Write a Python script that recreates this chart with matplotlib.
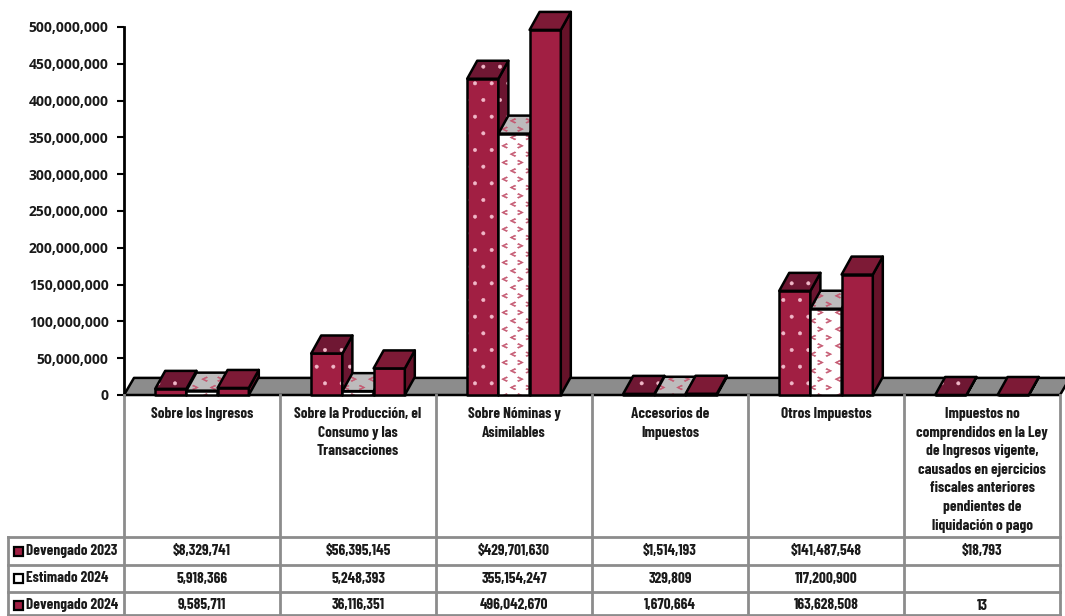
import numpy as np
import matplotlib
matplotlib.use("Agg")
import matplotlib.pyplot as plt
import matplotlib.hatch as mhatch
from matplotlib.patches import Polygon, Rectangle
from matplotlib.path import Path

categories = ["Sobre los Ingresos",
              "Sobre la Producción, el\nConsumo y las\nTransacciones",
              "Sobre Nóminas y\nAsimilables",
              "Accesorios de\nImpuestos",
              "Otros Impuestos",
              "Impuestos no\ncomprendidos en la Ley\nde Ingresos vigente,\ncausados en ejercicios\nfiscales anteriores\npendientes de\nliquidación o pago"]
devengado_2023 = [8329741, 56395145, 429701630, 1514193, 141487548, 18793]
estimado_2024 = [5918366, 5248393, 355154247, 329809, 117200900, np.nan]
devengado_2024 = [9585711, 36116351, 496042670, 1670664, 163628508, 13]
series_names = ["Devengado 2023", "Estimado 2024", "Devengado 2024"]
yticks = np.arange(0, 500000001, 50000000)

W, H = 1065, 616
NARROW = ["Saira Extra Condensed", "Barlow Condensed", "DejaVu Sans"]


# Chevron hatch for the estimated series
class ChevronHatch(mhatch.HatchPatternBase):
    def __init__(self, hatch, density):
        self.num_rows = hatch.count("<") * density
        self.num_vertices = 7 * (self.num_rows * self.num_rows // 2 + self.num_rows)

    def set_vertices_and_codes(self, vertices, codes):
        n = self.num_rows
        k = 0
        s = 0.024
        t = 0.009
        for r in range(n):
            for c in range(n):
                if (r + c) % 2:
                    continue
                x = (c + 0.5) / n
                y = (r + 0.5) / n
                d = 1 if c % 4 < 2 else -1
                vertices[k:k + 7] = [(x + d * s, y + s), (x - d * s, y), (x + d * s, y - s),
                                     (x + d * (s + t), y - s + t), (x - d * (s - 2 * t), y),
                                     (x + d * (s + t), y + s - t), (x + d * s, y + s)]
                codes[k:k + 7] = [Path.MOVETO, Path.LINETO, Path.LINETO, Path.LINETO,
                                  Path.LINETO, Path.LINETO, Path.CLOSEPOLY]
                k += 7
        vertices[k:] = vertices[k - 1]
        codes[k:] = Path.MOVETO


mhatch._hatch_types.append(ChevronHatch)
plt.rcParams["hatch.linewidth"] = 0.4

fig = plt.figure(figsize=(W / 100, H / 100), dpi=100, facecolor="white")
ax = fig.add_axes([124 / W, (H - 395) / H, 936 / W, 368 / H])
ax.set_xlim(0, 6)
ax.set_ylim(0, 500000000)
ax.patch.set_alpha(0)

dx = 10 / 156
dy = 18 / 368 * 500000000
bw = 0.2


def face(pts, color, hatch=None, hcolor="#e8a0b4", z=3):
    if hatch:
        ax.add_patch(Polygon(pts, closed=True, facecolor=color, edgecolor=hcolor, lw=0,
                             hatch=hatch, clip_on=False, zorder=z))
        ax.add_patch(Polygon(pts, closed=True, fill=False, edgecolor="black", lw=1.8,
                             joinstyle="round", clip_on=False, zorder=z))
    else:
        ax.add_patch(Polygon(pts, closed=True, facecolor=color, edgecolor="black", lw=1.8,
                             joinstyle="round", clip_on=False, zorder=z))


def bar3d(x0, v, front, side, top, hatch=None, hcolor="#e8a0b4", z=3):
    x1 = x0 + bw
    face([(x0, 0), (x1, 0), (x1, v), (x0, v)], front, hatch, hcolor, z)
    face([(x1, 0), (x1 + dx, dy), (x1 + dx, v + dy), (x1, v)], side, hatch, hcolor, z)
    face([(x0, v), (x1, v), (x1 + dx, v + dy), (x0 + dx, v + dy)], top, hatch, hcolor, z)


# floor
face([(0, 0), (6, 0), (6 + dx, dy * 0.95), (dx, dy * 0.95)], "#8c8c8c", z=2)

styles = [
    dict(front="#a11f43", side="#6b1530", top="#6f1733", hatch=".", hcolor="#f0b8c8"),
    dict(front="white", side="#bdbbbc", top="#bdbbbc", hatch="<<", hcolor="#c4566f"),
    dict(front="#a11f43", side="#661229", top="#7d1a36"),
]
for i in range(6):
    for j, vals in enumerate([devengado_2023, estimado_2024, devengado_2024]):
        v = vals[i]
        if np.isnan(v):
            continue
        bar3d(i + 0.2 + j * bw, v, z=3 + i + j * 0.1, **styles[j])

for s in ["top", "right", "bottom"]:
    ax.spines[s].set_visible(False)
ax.spines["left"].set_linewidth(2)
ax.set_xticks([])
ax.set_yticks(yticks)
ax.set_yticklabels([f"{v:,}" for v in yticks], fontsize=10, fontweight="bold",
                   family="Open Sans", color="#1a1a1a")
ax.tick_params(axis="y", length=5, width=1.5, pad=6)

# data table, in pixel coordinates
tb = fig.add_axes([0, 0, 1, 1])
tb.set_xlim(0, W)
tb.set_ylim(H, 0)
tb.axis("off")
tb.patch.set_alpha(0)
grid = "#8c8c8c"
col_x = [124, 280, 436, 592, 748, 904, 1060]
row_y = [537, 565, 592, 615]
for x in col_x:
    tb.plot([x, x], [395, row_y[-1]], color=grid, lw=2, zorder=1)
tb.plot([8, 8], [row_y[0], row_y[-1]], color=grid, lw=2, zorder=1)
for y in row_y:
    tb.plot([8, 1060], [y, y], color=grid, lw=2, zorder=1)

for i, name in enumerate(categories):
    tb.text((col_x[i] + col_x[i + 1]) / 2, 407, name, ha="center", va="top", fontsize=11,
            fontweight="bold", family=NARROW, linespacing=1.42, color="#1a1a1a")

row_mid = [551, 578.5, 605.5]
key_color = ["#a11f43", "white", "#a11f43"]
for r, vals in enumerate([devengado_2023, estimado_2024, devengado_2024]):
    tb.add_patch(Rectangle((14, row_mid[r] - 4.5), 9, 9, facecolor=key_color[r], edgecolor="black", lw=1.6))
    tb.text(26, row_mid[r], series_names[r], ha="left", va="center", fontsize=11,
            fontweight="bold", family=NARROW, color="#1a1a1a")
    for i, v in enumerate(vals):
        if np.isnan(v):
            continue
        label = f"${v:,}" if r == 0 else f"{v:,}"
        tb.text((col_x[i] + col_x[i + 1]) / 2, row_mid[r], label, ha="center", va="center",
                fontsize=11, fontweight="bold", family=NARROW, color="#1a1a1a")

fig.savefig("out.png", dpi=100)
